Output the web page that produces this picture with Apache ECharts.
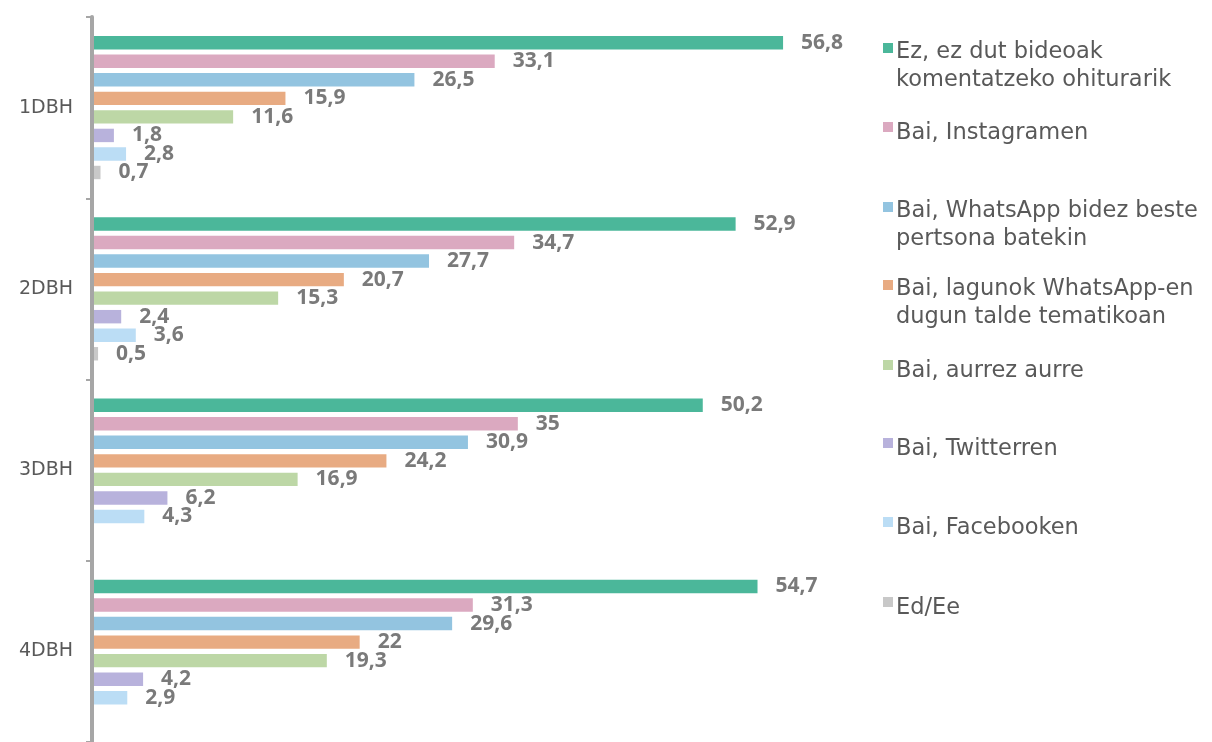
<!DOCTYPE html>
<html><head><meta charset="utf-8">
<script src="https://cdn.jsdelivr.net/npm/echarts@6/dist/echarts.min.js"></script>
<style>html,body{margin:0;padding:0;background:#fff}#c{width:1212px;height:742px}</style>
</head><body><div id="c"></div>
<script>
const categories = ['1DBH', '2DBH', '3DBH', '4DBH'];
const seriesNames = [
  'Ez, ez dut bideoak komentatzeko ohiturarik',
  'Bai, Instagramen',
  'Bai, WhatsApp bidez beste pertsona batekin',
  'Bai, lagunok WhatsApp-en dugun talde tematikoan',
  'Bai, aurrez aurre',
  'Bai, Twitterren',
  'Bai, Facebooken',
  'Ed/Ee'
];
const legendLabels = [
  'Ez, ez dut bideoak\nkomentatzeko ohiturarik',
  'Bai, Instagramen',
  'Bai, WhatsApp bidez beste\npertsona batekin',
  'Bai, lagunok WhatsApp-en\ndugun talde tematikoan',
  'Bai, aurrez aurre',
  'Bai, Twitterren',
  'Bai, Facebooken',
  'Ed/Ee'
];
const ezOhiturarik = [56.8, 52.9, 50.2, 54.7];
const instagramen = [33.1, 34.7, 35, 31.3];
const whatsappBeste = [26.5, 27.7, 30.9, 29.6];
const whatsappTalde = [15.9, 20.7, 24.2, 22];
const aurrezAurre = [11.6, 15.3, 16.9, 19.3];
const twitterren = [1.8, 2.4, 6.2, 4.2];
const facebooken = [2.8, 3.6, 4.3, 2.9];
const edEe = [0.7, 0.5, null, null];
const seriesData = [ezOhiturarik, instagramen, whatsappBeste, whatsappTalde, aurrezAurre, twitterren, facebooken, edEe];
const colors = ['#4BB79A', '#DBA9C0', '#93C4E0', '#E8AB82', '#BDD7A6', '#B8B2DC', '#BBDDF5', '#C8C8C8'];

const FONT = 'DejaVu Sans';
const markerTops = [43, 122, 202, 280, 360, 438, 517, 597];
const iconSingle = 'path://M0,0H10V10H0Z M0,21.99L0.01,22L0,22Z';
const iconDouble = 'path://M0,0H10V10H0Z M0,46.99L0.01,47L0,47Z';

const legends = seriesNames.map((n, i) => {
  const two = legendLabels[i].indexOf('\n') >= 0;
  return {
    data: [n],
    left: 883,
    top: markerTops[i] - (two ? 4.5 : 3),
    padding: 0,
    orient: 'vertical',
    itemWidth: 10,
    itemHeight: two ? 47 : 22,
    itemGap: 0,
    icon: two ? iconDouble : iconSingle,
    selectedMode: false,
    formatter: () => legendLabels[i],
    textStyle: { fontFamily: FONT, fontSize: 22.5, color: '#595959', lineHeight: 28, padding: [0, 0, 0, -2] }
  };
});

const chart = echarts.init(document.getElementById('c'));
chart.setOption({
  animation: false,
  color: colors,
  legend: legends,
  grid: { left: 92, top: 17, width: 730, height: 732 },
  xAxis: { type: 'value', min: 0, max: 60, show: false },
  yAxis: {
    type: 'category',
    data: categories,
    inverse: true,
    z: 10,
    axisLine: { lineStyle: { color: '#A6A6A6', width: 4 } },
    axisTick: { show: true, length: 6, lineStyle: { color: '#A6A6A6', width: 2 } },
    axisLabel: { fontFamily: FONT, fontSize: 19, color: '#595959', margin: 19 }
  },
  series: seriesNames.map((n, i) => ({
    name: n,
    type: 'bar',
    data: seriesData[i],
    barCategoryGap: '21%',
    barGap: '38%',
    itemStyle: { color: colors[i] },
    label: {
      show: true,
      position: 'right',
      distance: 18,
      fontFamily: 'Open Sans',
      fontSize: 21,
      fontWeight: 'bold',
      color: '#7A7A7A',
      formatter: p => (p.value == null ? '' : String(p.value).replace('.', ','))
    }
  }))
});
</script></body></html>
